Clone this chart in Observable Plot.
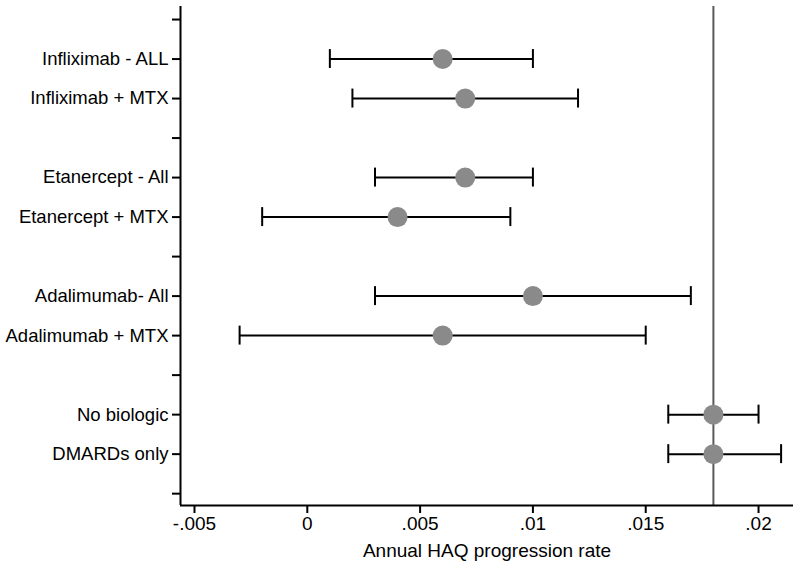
<!DOCTYPE html>
<html>
<head>
<meta charset="utf-8">
<script src="https://cdn.jsdelivr.net/npm/d3@7"></script>
<script src="https://cdn.jsdelivr.net/npm/@observablehq/plot@0.6"></script>
<style>
  html, body { margin: 0; padding: 0; background: #fff; }
</style>
</head>
<body>
<div id="chart"></div>
<script>
// Row labels (blank rows separate groups)
const rowLabels = ["", "Infliximab - ALL", "Infliximab + MTX", "", "Etanercept - All", "Etanercept + MTX", "", "Adalimumab- All", "Adalimumab + MTX", "", "No biologic", "DMARDs only", ""];
const treatments = ["Infliximab - ALL", "Infliximab + MTX", "Etanercept - All", "Etanercept + MTX", "Adalimumab- All", "Adalimumab + MTX", "No biologic", "DMARDs only"];
const estimates = [0.006, 0.007, 0.007, 0.004, 0.010, 0.006, 0.018, 0.018];
const lower     = [0.001, 0.002, 0.003, -0.002, 0.003, -0.003, 0.016, 0.016];
const upper     = [0.010, 0.012, 0.010, 0.009, 0.017, 0.015, 0.020, 0.021];
const referenceLine = [0.018];
const xTicks = [-0.005, 0, 0.005, 0.01, 0.015, 0.02];
const xDomain = [-0.00562, 0.02155];
const yDomain = [12.3, -0.33];

const data = treatments.map((t, i) => ({
  name: t,
  row: rowLabels.indexOf(t),
  est: estimates[i],
  lo: lower[i],
  hi: upper[i]
}));

const fmt = d => d === 0 ? "0" : String(d).replace("0.", ".");

const chart = Plot.plot({
  width: 800,
  height: 566,
  marginLeft: 180,
  marginRight: 7,
  marginTop: 6,
  marginBottom: 61,
  style: { fontFamily: "'Liberation Sans', Arial, Helvetica, sans-serif", fontSize: "18px", color: "#000", background: "#fff" },
  x: { domain: xDomain },
  y: { domain: yDomain },
  marks: [
    Plot.ruleX(referenceLine, { stroke: "#5a5a5a", strokeWidth: 2 }),
    Plot.ruleY(data, { y: "row", x1: "lo", x2: "hi", stroke: "#000", strokeWidth: 2 }),
    Plot.ruleX(data, { x: "lo", y1: d => d.row - 0.24, y2: d => d.row + 0.24, stroke: "#000", strokeWidth: 2 }),
    Plot.ruleX(data, { x: "hi", y1: d => d.row - 0.24, y2: d => d.row + 0.24, stroke: "#000", strokeWidth: 2 }),
    Plot.dot(data, { x: "est", y: "row", r: 10, fill: "#8a8a8a", stroke: "none" }),
    Plot.ruleX([xDomain[0]], { stroke: "#000", strokeWidth: 2 }),
    Plot.ruleY([yDomain[0]], { stroke: "#000", strokeWidth: 2 }),
    Plot.axisY({
      ticks: d3.range(rowLabels.length),
      tickFormat: i => rowLabels[i],
      tickSize: 8,
      tickPadding: 4,
      strokeWidth: 2,
      fontSize: 18.5,
      fill: "#000",
      label: null
    }),
    Plot.axisX({
      ticks: xTicks,
      tickFormat: fmt,
      tickSize: 8,
      tickPadding: 3,
      strokeWidth: 2,
      fontSize: 19,
      fill: "#000",
      label: "Annual HAQ progression rate",
      labelAnchor: "center",
      labelArrow: "none",
      labelOffset: 51
    })
  ]
});

document.getElementById("chart").appendChild(chart);
</script>
</body>
</html>
